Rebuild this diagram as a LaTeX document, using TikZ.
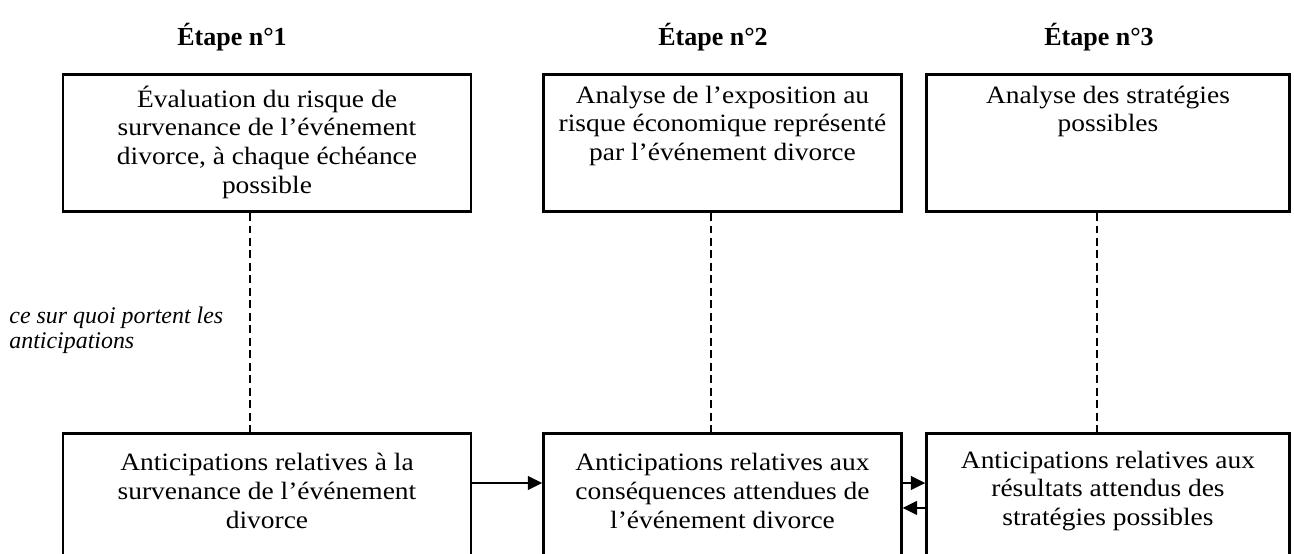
\documentclass[tikz,border=0pt]{standalone}
\usepackage{fontspec}
\setmainfont{Liberation Serif}
\newfontfamily\boitefont{Liberation Serif}[FakeStretch=1.1]
\usetikzlibrary{positioning,arrows.meta,calc}

\def\unitpx{0.479pt}

\begin{document}
\begin{tikzpicture}[x=0.0169cm,y=-0.0169cm,
    boite/.style={draw, line width=1.3pt, inner sep=0pt},
    texte/.style={align=center, inner sep=0pt, font=\boitefont\fontsize{12}{13.8}\selectfont},
    titre/.style={font=\fontsize{12.5}{14}\selectfont\bfseries},
    fleche/.style={-{Triangle[length=7pt,width=6.5pt]}, line width=1.3pt},
    pointille/.style={line width=0.9pt, dash pattern=on 3.8pt off 2.2pt}]
    \useasboundingbox (0,0) rectangle (1294,553);
    \clip (0,0) rectangle (1294,553);

    % les trois etapes
    \node[titre] (t1) at (232,37) {Étape n°1};
    \node[titre] (t2) at (713,37) {Étape n°2};
    \node[titre] (t3) at (1099,37) {Étape n°3};

    \node[boite, minimum width=410*\unitpx, minimum height=138*\unitpx] (h1) at (267,143) {};
    \node[boite, minimum width=359*\unitpx, minimum height=138*\unitpx] (h2) at (722.5,143) {};
    \node[boite, minimum width=364*\unitpx, minimum height=138*\unitpx] (h3) at (1108,143) {};

    \node[boite, minimum width=410*\unitpx, minimum height=132*\unitpx] (b1) at (267,499) {};
    \node[boite, minimum width=359*\unitpx, minimum height=132*\unitpx] (b2) at (722.5,499) {};
    \node[boite, minimum width=364*\unitpx, minimum height=132*\unitpx] (b3) at (1108,499) {};

    \node[texte, below=6pt of h1.north] (th1) {Évaluation du risque de\\survenance de l’événement\\divorce, à chaque échéance\\possible};
    \node[texte, below=6pt of h2.north] (th2) {Analyse de l’exposition au\\risque économique représenté\\par l’événement divorce};
    \node[texte, below=6pt of h3.north] (th3) {Analyse des stratégies\\possibles};

    \node[texte] (tb1) at (267,491) {Anticipations relatives à la\\survenance de l’événement\\divorce};
    \node[texte] (tb2) at (722.5,491) {Anticipations relatives aux\\conséquences attendues de\\l’événement divorce};
    \node[texte] (tb3) at (1108,491) {Anticipations relatives aux\\résultats attendus des\\stratégies possibles};

    \node[align=left, anchor=west, inner sep=0pt, font=\fontsize{11.5}{12.2}\selectfont\itshape] (ant) at (9,330) {ce sur quoi portent les\\anticipations};

    % liens verticaux
    \draw[pointille] ([xshift=-8pt]h1.south) -- ([xshift=-8pt]b1.north);
    \draw[pointille] ([xshift=-5.7pt]h2.south) -- ([xshift=-5.7pt]b2.north);
    \draw[pointille] ([xshift=-5.3pt]h3.south) -- ([xshift=-5.3pt]b3.north);

    \draw[fleche] ([yshift=7.7pt]b1.east) -- ([yshift=7.7pt]b2.west);
    \draw[fleche] ([yshift=7.7pt]b2.east) -- ([yshift=7.7pt]b3.west);
    \draw[fleche] ([yshift=-4.3pt]b3.west) -- ([yshift=-4.3pt]b2.east);
\end{tikzpicture}
\end{document}
